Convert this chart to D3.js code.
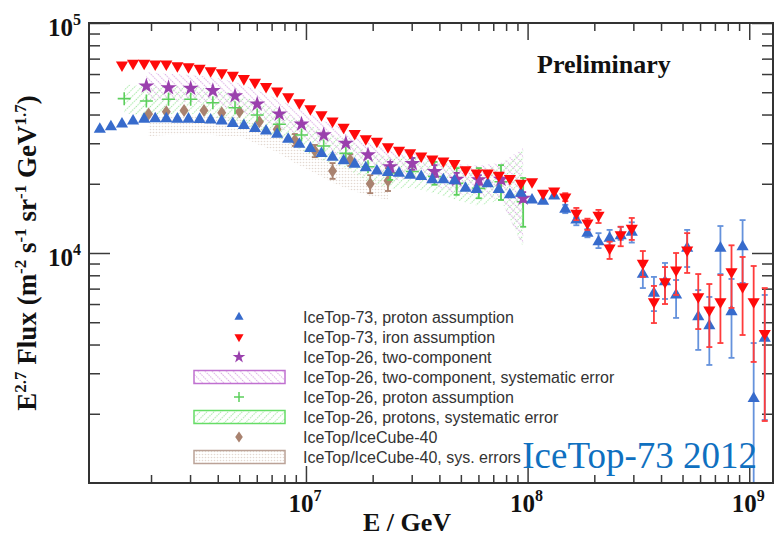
<!DOCTYPE html>
<html>
<head>
<meta charset="utf-8">
<script src="https://cdnjs.cloudflare.com/ajax/libs/d3/7.8.5/d3.min.js"></script>
<style>
  body { margin: 0; background: #fff; }
  svg { display: block; }
  .axis path.domain { display: none; }
  .axis line { stroke: #3a3a3a; stroke-width: 1.5; }
</style>
</head>
<body>
<div class="container"></div>
<script>
// DATA: log10(E / GeV) and E^2.7 flux

// IceTop-73, proton assumption
const protonLogE = [6.07, 6.12, 6.17, 6.22, 6.27, 6.32, 6.37, 6.42, 6.47, 6.52, 6.57, 6.62, 6.67, 6.72, 6.77, 6.82,
    6.87, 6.92, 6.97, 7.02, 7.07, 7.12, 7.17, 7.22, 7.27, 7.32, 7.37, 7.42, 7.47, 7.52, 7.57, 7.62, 7.67, 7.72,
    7.77, 7.82, 7.87, 7.92, 7.97, 8.02, 8.07, 8.12, 8.17, 8.22, 8.27, 8.32, 8.37, 8.42, 8.47, 8.52, 8.57, 8.62,
    8.67, 8.72, 8.77, 8.82, 8.87, 8.92, 8.97, 9.02, 9.07];
const protonFlux = [34500, 35400, 36400, 37500, 38200, 38300, 38300, 38200, 38200, 38100, 37900, 37500, 36600, 35800,
    34800, 33900, 32800, 31200, 29700, 28500, 27100, 26100, 25200, 24300, 23500, 22700, 22400, 22200, 21800, 21500,
    20800, 20800, 20600, 19100, 18900, 20000, 18900, 17900, 18200, 17000, 16800, 17700, 15500, 13900, 12200, 11200,
    11600, 11900, 12300, 8080, 6680, 7500, 6570, 10500, 5280, 4830, 10500, 5560, 10650, 2330, 4260];
const tailLogE = [8.17, 8.22, 8.27, 8.32, 8.37, 8.42, 8.47, 8.52, 8.57, 8.62, 8.67, 8.72, 8.77, 8.82, 8.87, 8.92,
    8.97, 9.02, 9.07];
const protonErrHi = [16200, 14300, 12700, 12200, 12600, 13000, 13600, 8870, 7870, 9050, 7630, 12600, 6900, 6440,
    13100, 7710, 13900, 4060, 6570];
const protonErrLo = [14900, 13200, 11700, 10500, 10800, 11400, 11100, 7040, 5590, 6310, 5220, 8690, 3790, 3260,
    8100, 3500, 7410, 500, 1880];

// IceTop-73, iron assumption
const ironLogE = protonLogE.slice(2);
const ironFlux = [65700, 66800, 66800, 66300, 66300, 65200, 64600, 63500, 62000, 60800, 59200, 57300, 55200, 52900,
    50600, 47800, 45000, 42400, 39900, 37500, 35200, 33100, 31400, 30600, 29000, 28000, 27300, 26400, 25600, 25100,
    24500, 23000, 22300, 22300, 21800, 21100, 20100, 20400, 18200, 18600, 17500, 14900, 13500, 14600, 10500, 12000,
    12800, 9020, 6140, 7500, 8440, 10300, 6460, 5650, 6140, 8290, 7140, 6140, 4470];
const ironErrHi = [18200, 15700, 14100, 15400, 11200, 13000, 14200, 10200, 7190, 8690, 10000, 12200, 8100, 7330,
    8020, 10800, 9610, 8780, 7040];
const ironErrLo = [16800, 13900, 12600, 13500, 9420, 10700, 11400, 7870, 4960, 6000, 6570, 8190, 4670, 3900,
    4060, 5770, 4400, 3360, 1860];

// IceTop-26, two-component
const twoCompLogE = [6.28, 6.38, 6.48, 6.58, 6.68, 6.78, 6.88, 6.98, 7.08, 7.18, 7.28, 7.38, 7.48, 7.58, 7.68,
    7.78, 7.88, 7.98];
const twoCompFlux = [53200, 52300, 52000, 50800, 48200, 44400, 40200, 36300, 32600, 30000, 26700, 23700, 24500,
    22600, 20900, 20800, 20900, 17300];
const twoCompSysHi = [61200, 60000, 59400, 58200, 55400, 51100, 46300, 41900, 37500, 34600, 30700, 28000, 28000,
    26100, 24400, 24100, 24600, 28600];
const twoCompSysLo = [46300, 45800, 45300, 44400, 41900, 38600, 35000, 31600, 28300, 25900, 23200, 20400, 21200,
    19600, 18000, 17900, 17000, 10600];
const it26ErrLogE = [7.38, 7.48, 7.58, 7.68, 7.78, 7.88, 7.98];
const twoCompErrHi = [24900, 25900, 24100, 22300, 21800, 22300, 18400];
const twoCompErrLo = [22500, 23000, 21400, 20100, 19800, 20100, 16700];

// IceTop-26, proton assumption
const it26LogE = [6.18, 6.28, 6.38, 6.48, 6.58, 6.68, 6.78, 6.88, 6.98, 7.08, 7.18, 7.28, 7.38, 7.48, 7.58, 7.68,
    7.78, 7.88, 7.98];
const it26Flux = [46900, 45800, 46600, 46600, 45000, 42800, 39800, 36300, 32600, 29200, 27100, 23700, 22300, 22600,
    21500, 20100, 19100, 20400, 16700];
const it26SysHi = [54300, 52700, 53200, 53200, 51600, 49100, 45800, 41900, 37500, 33600, 31300, 27500, 26100, 26400,
    25400, 23900, 23000, 24100, 28600];
const it26SysLo = [40600, 39400, 40200, 40200, 39000, 37100, 34600, 31300, 28000, 25100, 23400, 20400, 19000, 19200,
    18200, 17000, 16000, 17000, 10600];
const it26ErrHi = [23400, 25900, 24900, 23400, 23400, 24100, 21200];
const it26ErrLo = [20800, 21400, 19800, 17900, 17300, 17000, 13000];

// IceTop/IceCube-40
const ic40LogE = [6.29, 6.37, 6.45, 6.54, 6.62, 6.70, 6.79, 6.87, 6.95, 7.04, 7.12, 7.20, 7.29, 7.37];
const ic40Flux = [40200, 41100, 41600, 41600, 40700, 41100, 37200, 34500, 31000, 27800, 22700, 25400, 20000, 20600];
const ic40SysHi = [39000, 39400, 39600, 39600, 39200, 39000, 36000, 33600, 30400, 27200, 24600, 23400, 21300, 20800];
const ic40SysLo = [32200, 32600, 32900, 32900, 32300, 32300, 29500, 27500, 24600, 22300, 20200, 18800, 17700, 17000];
const ic40ErrLogE = [6.95, 7.04, 7.12, 7.20, 7.29, 7.37];
const ic40ErrHi = [32900, 29500, 24600, 26900, 21800, 23400];
const ic40ErrLo = [29200, 26100, 21000, 23900, 18200, 18600];

const legendLabels = [
    "IceTop-73, proton assumption",
    "IceTop-73, iron assumption",
    "IceTop-26, two-component",
    "IceTop-26, two-component, systematic error",
    "IceTop-26, proton assumption",
    "IceTop-26, protons, systematic error",
    "IceTop/IceCube-40",
    "IceTop/IceCube-40, sys. errors"
];

const xMajor = [1e7, 1e8, 1e9];
const yMajor = [1e4, 1e5];

// COLOURS
const blue = "#376bcc", red = "#ff0a0a", purple = "#9a40ad", green = "#5ccf5c", brown = "#a9826f";

const container = d3.select(".container");

const margin = {
    top: 23,
    right: 1,
    bottom: 54,
    left: 89
};

const width = 774 - margin.left - margin.right,
    height = 537 - margin.top - margin.bottom;

const svg = container
    .append("svg")
    .attr("width", 774)
    .attr("height", 537)
    .style("font-family", "'Liberation Serif', 'Times New Roman', serif");

// PATTERNS for the systematic bands
const defs = svg.append("defs");

function hatch(id, color, angle) {
    const p = defs.append("pattern")
        .attr("id", id)
        .attr("patternUnits", "userSpaceOnUse")
        .attr("width", 5)
        .attr("height", 5)
        .attr("patternTransform", `rotate(${angle})`);
    p.append("line")
        .attr("x1", 2.5).attr("y1", 0)
        .attr("x2", 2.5).attr("y2", 5)
        .attr("stroke", color)
        .attr("stroke-width", 1.1)
        .attr("stroke-dasharray", "1.2 1.3");
}
hatch("hatch-purple", "#d7a3e2", -45);
hatch("hatch-green", "#9be79b", 45);

const dots = defs.append("pattern")
    .attr("id", "dots-brown")
    .attr("patternUnits", "userSpaceOnUse")
    .attr("width", 3)
    .attr("height", 3);
dots.append("circle")
    .attr("cx", 1.5).attr("cy", 1.5).attr("r", 0.8)
    .attr("fill", "#e3d8d1");

defs.append("clipPath")
    .attr("id", "plot-clip")
    .append("rect")
    .attr("width", width)
    .attr("height", height);

const plot = svg
    .append("g")
    .attr("transform", `translate(${margin.left}, ${margin.top})`);

// SCALES
const xScale = d3
    .scaleLog()
    .domain([1.05e6, 1.28e9])
    .range([0, width]);

const yScale = d3
    .scaleLog()
    .domain([1e3, 1e5])
    .range([height, 0]);

const isDecade = v => Math.abs(Math.log10(v) - Math.round(Math.log10(v))) < 1e-9;
const xMinor = xScale.ticks().filter(v => !isDecade(v));
const yMinor = yScale.ticks().filter(v => !isDecade(v));

// AXES (ticks pointing inwards on all four sides)
function addAxis(axis, values, size, transform) {
    plot.append("g")
        .attr("class", "axis")
        .attr("transform", transform)
        .call(axis.tickValues(values).tickSize(size).tickFormat(""));
}
addAxis(d3.axisTop(xScale), xMajor, 17, `translate(0, ${height})`);
addAxis(d3.axisTop(xScale), xMinor, 8, `translate(0, ${height})`);
addAxis(d3.axisBottom(xScale), xMajor, 17, "translate(0, 0)");
addAxis(d3.axisBottom(xScale), xMinor, 8, "translate(0, 0)");
addAxis(d3.axisRight(yScale), yMajor, 21, "translate(0, 0)");
addAxis(d3.axisRight(yScale), yMinor, 11, "translate(0, 0)");
addAxis(d3.axisLeft(yScale), yMajor, 21, `translate(${width}, 0)`);
addAxis(d3.axisLeft(yScale), yMinor, 11, `translate(${width}, 0)`);

// tick labels
function powerLabel(sel) {
    sel.attr("font-size", 25)
        .attr("font-weight", "bold")
        .attr("fill", "#111")
        .each(function (d) {
            const t = d3.select(this);
            t.append("tspan").text("10");
            t.append("tspan").attr("dy", -11).attr("font-size", 16).text(Math.round(Math.log10(d)));
        });
}

plot.selectAll(".xlabel")
    .data(xMajor)
    .enter()
    .append("text")
    .attr("class", "xlabel")
    .attr("x", d => xScale(d) - 1)
    .attr("y", height + 29)
    .attr("text-anchor", "middle")
    .call(powerLabel);

plot.selectAll(".ylabel")
    .data(yMajor)
    .enter()
    .append("text")
    .attr("class", "ylabel")
    .attr("x", -8)
    .attr("y", d => yScale(d) + 13)
    .attr("text-anchor", "end")
    .call(powerLabel);

// BANDS
const bandArea = d3.area()
    .x(d => xScale(10 ** d.e))
    .y0(d => yScale(d.lo))
    .y1(d => yScale(d.hi));

const dataLayer = plot.append("g").attr("clip-path", "url(#plot-clip)");

function band(logE, hi, lo, fill) {
    dataLayer.append("path")
        .datum(logE.map((e, i) => ({e, hi: hi[i], lo: lo[i]})))
        .attr("d", bandArea)
        .attr("fill", fill);
}
band(ic40LogE, ic40SysHi, ic40SysLo, "url(#dots-brown)");
band(it26LogE, it26SysHi, it26SysLo, "url(#hatch-green)");
band(twoCompLogE, twoCompSysHi, twoCompSysLo, "url(#hatch-purple)");

// ERROR BARS
function errorBars(logE, hi, lo, color, cap) {
    const g = dataLayer.append("g")
        .attr("stroke", color)
        .attr("stroke-width", 1.8);
    logE.forEach((e, i) => {
        const x = xScale(10 ** e);
        g.append("line").attr("x1", x).attr("x2", x).attr("y1", yScale(hi[i])).attr("y2", yScale(lo[i]));
        [hi[i], lo[i]].forEach(v => {
            g.append("line")
                .attr("x1", x - cap).attr("x2", x + cap)
                .attr("y1", yScale(v)).attr("y2", yScale(v));
        });
    });
}

// MARKERS
const upPath = d3.symbol(d3.symbolTriangle, 64)();
const starPath = d3.symbol(d3.symbolStar, 80)();
const crossPath = "M-6.5,0H6.5M0,-6.5V6.5";
const diamondPath = "M0,-6.5L4.5,0L0,6.5L-4.5,0Z";

function markers(logE, flux, path, style, rotate) {
    dataLayer.append("g")
        .selectAll("path")
        .data(logE.map((e, i) => ({e, f: flux[i]})))
        .enter()
        .append("path")
        .attr("d", path)
        .attr("transform", d => `translate(${xScale(10 ** d.e)}, ${yScale(d.f)})${rotate ? " rotate(180)" : ""}`)
        .attr("fill", style.fill || "none")
        .attr("stroke", style.stroke || "none")
        .attr("stroke-width", style.width || 0);
}

errorBars(ic40ErrLogE, ic40ErrHi, ic40ErrLo, brown, 3);
markers(ic40LogE, ic40Flux, diamondPath, {fill: brown});

errorBars(it26ErrLogE, it26ErrHi, it26ErrLo, green, 3);
markers(it26LogE, it26Flux, crossPath, {stroke: green, width: 1.6});

errorBars(it26ErrLogE, twoCompErrHi, twoCompErrLo, purple, 3);
markers(twoCompLogE, twoCompFlux, starPath, {fill: purple});

errorBars(tailLogE, protonErrHi, protonErrLo, "#6592dc", 3);
markers(protonLogE, protonFlux, upPath, {fill: blue});

errorBars(tailLogE, ironErrHi, ironErrLo, "#ff3b3b", 3);
markers(ironLogE, ironFlux, upPath, {fill: red}, true);

// FRAME
plot.append("rect")
    .attr("width", width)
    .attr("height", height)
    .attr("fill", "none")
    .attr("stroke", "#333")
    .attr("stroke-width", 2);

// TITLES
const yTitle = svg.append("text")
    .attr("transform", "translate(36, 253) rotate(-90)")
    .attr("text-anchor", "middle")
    .attr("font-size", 27)
    .attr("font-weight", "bold")
    .attr("fill", "#111");
[["E", 0], ["2.7", 1], [" Flux (m", 0], ["-2", 1], [" s", 0], ["-1", 1], [" sr", 0], ["-1", 1], [" GeV", 0], ["1.7", 1], [")", 0]]
    .forEach(([txt, sup], i, arr) => {
        const prevSup = i > 0 && arr[i - 1][1];
        yTitle.append("tspan")
            .attr("dy", sup ? -10 : (prevSup ? 10 : 0))
            .attr("font-size", sup ? 17 : 27)
            .text(txt);
    });

svg.append("text")
    .attr("x", 407)
    .attr("y", 531)
    .attr("text-anchor", "middle")
    .attr("font-size", 26)
    .attr("font-weight", "bold")
    .attr("fill", "#111")
    .text("E / GeV");

svg.append("text")
    .attr("x", 537)
    .attr("y", 73)
    .attr("font-size", 26)
    .attr("font-weight", "bold")
    .attr("fill", "#111")
    .text("Preliminary");

// LEGEND
const legend = svg.append("g")
    .attr("font-family", "'Liberation Sans', Arial, sans-serif");

const legendSymbols = [
    {path: d3.symbol(d3.symbolTriangle, 36)(), fill: blue},
    {path: d3.symbol(d3.symbolTriangle, 36)(), fill: red, rotate: true},
    {path: d3.symbol(d3.symbolStar, 50)(), fill: purple},
    {box: "url(#hatch-purple)", stroke: "#c070d0"},
    {path: "M-5,0H5M0,-5V5", stroke: green},
    {box: "url(#hatch-green)", stroke: "#66dd66"},
    {path: "M0,-5.5L3.8,0L0,5.5L-3.8,0Z", fill: brown},
    {box: "url(#dots-brown)", stroke: "#bba297"}
];

legendLabels.forEach((label, i) => {
    const cy = 317 + 20 * i;
    const s = legendSymbols[i];
    if (s.box) {
        legend.append("rect")
            .attr("x", 194).attr("y", cy - 6.5)
            .attr("width", 91).attr("height", 13)
            .attr("fill", s.box)
            .attr("stroke", s.stroke)
            .attr("stroke-width", 1.5);
    } else {
        legend.append("path")
            .attr("d", s.path)
            .attr("transform", `translate(239, ${cy})${s.rotate ? " rotate(180)" : ""}`)
            .attr("fill", s.fill || "none")
            .attr("stroke", s.stroke || "none")
            .attr("stroke-width", s.stroke ? 1.5 : 0);
    }
    legend.append("text")
        .attr("x", 303)
        .attr("y", cy + 5.5)
        .attr("font-size", 16)
        .attr("fill", "#333")
        .text(label);
});

svg.append("text")
    .attr("x", 757)
    .attr("y", 468)
    .attr("text-anchor", "end")
    .attr("font-size", 37)
    .attr("fill", "#0f70c0")
    .text("IceTop-73 2012");
</script>
</body>
</html>
